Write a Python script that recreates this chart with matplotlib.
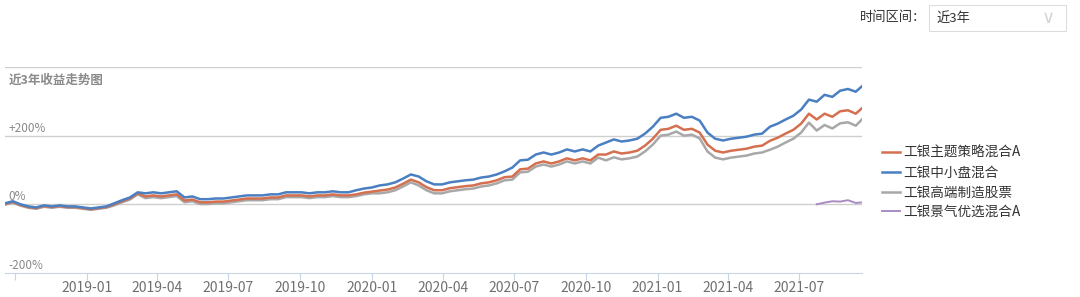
import pandas as pd
import matplotlib
matplotlib.use('Agg')
import matplotlib.pyplot as plt
from matplotlib.patches import Rectangle

plt.rcParams['font.family'] = ['Noto Sans CJK SC', 'DejaVu Sans']

# one point every 10 days, 2018-09-18 .. 2021-09-22
dates = pd.date_range('2018-09-18', periods=111, freq='10D')

# 工银中小盘混合 (blue), cumulative return %
blue = [3, 9, 0, -6, -9, -3, -6, -3, -6, -6,
        -9, -12, -9, -6, 3, 12, 20, 35, 32, 35,
        32, 35, 38, 20, 23, 15, 15, 17, 17, 20,
        23, 26, 26, 26, 29, 29, 35, 35, 35, 32,
        35, 35, 38, 35, 35, 41, 46, 49, 55, 58,
        64, 75, 87, 81, 67, 58, 58, 64, 67, 70,
        72, 78, 81, 87, 96, 107, 128, 130, 145, 151,
        145, 151, 160, 154, 160, 154, 171, 180, 189, 183,
        186, 191, 206, 226, 252, 255, 264, 252, 255, 244,
        209, 191, 186, 191, 194, 197, 203, 206, 226, 235,
        247, 258, 276, 305, 299, 319, 313, 331, 336, 328,
        348]

# 工银主题策略混合A (orange)
orange = [1, 7, -2, -8, -11, -5, -8, -5, -8, -8,
          -11, -14, -11, -8, 0, 9, 17, 32, 23, 26,
          23, 26, 29, 11, 14, 6, 6, 8, 8, 11,
          14, 17, 17, 17, 20, 20, 26, 26, 26, 23,
          26, 26, 29, 26, 26, 29, 34, 37, 40, 43,
          49, 60, 72, 64, 50, 41, 41, 47, 50, 53,
          55, 61, 64, 70, 79, 81, 102, 104, 119, 125,
          119, 125, 134, 128, 134, 128, 145, 145, 154, 148,
          151, 156, 171, 191, 217, 220, 229, 217, 220, 209,
          174, 156, 151, 156, 159, 162, 168, 171, 185, 194,
          206, 217, 235, 264, 247, 264, 255, 271, 274, 264,
          284]

# 工银高端制造股票 (gray)
gray = [-1, 5, -4, -10, -13, -7, -10, -7, -10, -10,
        -13, -16, -13, -10, -3, 6, 14, 29, 18, 21,
        18, 21, 24, 6, 9, 1, 1, 3, 3, 6,
        9, 12, 12, 12, 15, 15, 21, 21, 21, 18,
        21, 21, 24, 21, 21, 24, 29, 32, 32, 35,
        41, 52, 64, 55, 41, 32, 32, 38, 41, 44,
        46, 52, 55, 61, 70, 72, 93, 95, 110, 116,
        110, 116, 125, 119, 125, 119, 136, 128, 137, 131,
        134, 139, 154, 174, 200, 203, 212, 200, 203, 192,
        154, 136, 131, 136, 139, 142, 148, 151, 159, 168,
        180, 191, 209, 238, 215, 231, 221, 236, 239, 229,
        252]

# 工银景气优选混合A (purple), only the last weeks
purple_dates = dates[104:]
purple = [0, 5, 9, 8, 12, 4, 6]

names = ['工银主题策略混合A', '工银中小盘混合', '工银高端制造股票', '工银景气优选混合A']
colors = ['#d4704f', '#4a7fc1', '#a8a8a8', '#a98bc2']

tick_dates = pd.date_range('2018-10-01', '2021-07-01', freq='QS')
tick_labels = [''] + [d.strftime('%Y-%m') for d in tick_dates[1:]]

fig = plt.figure(figsize=(10.8, 2.97), dpi=100)
ax = fig.add_axes([5 / 1080, 1 - 273 / 297, 857 / 1080, 206 / 297])

ax.plot(dates, gray, color=colors[2], lw=1.8, label=names[2])
ax.plot(dates, orange, color=colors[0], lw=1.8, label=names[0])
ax.plot(dates, blue, color=colors[1], lw=1.8, label=names[1])
ax.plot(purple_dates, purple, color=colors[3], lw=1.4, label=names[3])

ax.set_xlim(dates[0], pd.Timestamp('2021-09-20'))
ax.set_ylim(-200, 400)
for v in [400, 200, 0]:
    ax.axhline(v, color='#cfcfcf', lw=1.0, zorder=0)

for s in ['top', 'left', 'right']:
    ax.spines[s].set_visible(False)
ax.spines['bottom'].set_color('#c9d5e6')
ax.set_yticks([])
ax.set_xticks(tick_dates)
ax.set_xticklabels(tick_labels)
ax.tick_params(axis='x', colors='#c9d5e6', labelcolor='#707070', labelsize=10,
               length=5, pad=1)

for v, lab in [(200, '+200%'), (0, '0%'), (-200, '-200%')]:
    ax.text(0.004, v + 3, lab, transform=ax.get_yaxis_transform(),
            fontsize=8.5, color='#8a8a8a', va='bottom', ha='left')
ax.text(0.004, 362, '近3年收益走势图', transform=ax.get_yaxis_transform(),
        fontsize=9, color='#8a8a8a', fontweight='bold', va='center', ha='left')

handles, labels = ax.get_legend_handles_labels()
order = [1, 2, 0, 3]
leg = ax.legend([handles[i] for i in order], [labels[i] for i in order],
                loc='upper left', bbox_to_anchor=(882 / 1080, 1 - 146 / 297),
                bbox_transform=fig.transFigure, frameon=False, fontsize=9.8,
                handlelength=1.3, handletextpad=0.25, labelspacing=0.42,
                borderaxespad=0, borderpad=0)
for t in leg.get_texts():
    t.set_color('#333333')

# time range selector at top right
fig.text(860 / 1080, 1 - 18 / 297, '时间区间：', fontsize=9.5, color='#333333',
         va='center', ha='left')
fig.patches.append(Rectangle((929 / 1080, 1 - 31 / 297), 137 / 1080, 26 / 297,
                             transform=fig.transFigure, facecolor='white',
                             edgecolor='#dddddd', lw=0.8))
fig.text(936 / 1080, 1 - 18 / 297, '近3年', fontsize=9.5, color='#333333',
         va='center', ha='left')
fig.text(1048 / 1080, 1 - 18 / 297, '∨', fontsize=13, color='#d5d5d5',
         va='center', ha='center', family=['DejaVu Sans'])

fig.savefig('out.png', dpi=100)
